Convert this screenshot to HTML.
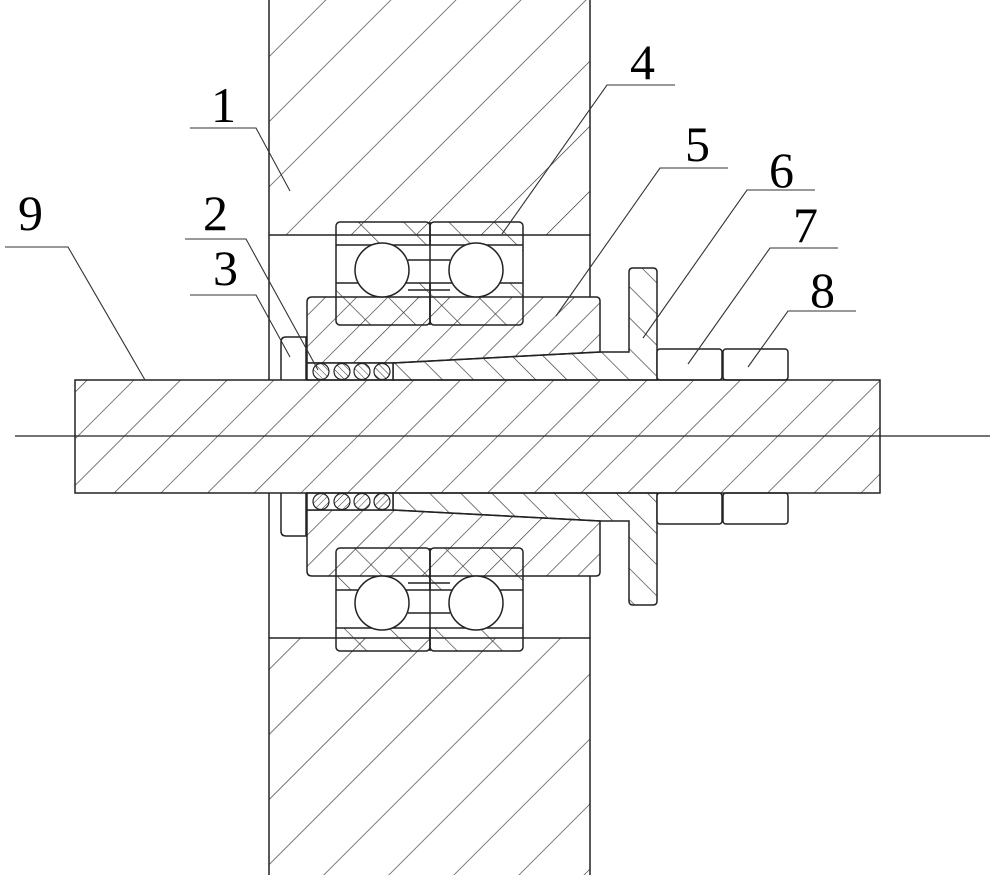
<!DOCTYPE html>
<html><head><meta charset="utf-8"><style>html,body{margin:0;padding:0;background:#fff}svg{display:block}</style></head>
<body>
<svg width="1000" height="875" viewBox="0 0 1000 875" xmlns="http://www.w3.org/2000/svg">
<defs>
<pattern id="hA" patternUnits="userSpaceOnUse" width="46" height="46" patternTransform="rotate(45)"><line x1="0" y1="0" x2="0" y2="46" stroke="#333" stroke-width="1.3"/></pattern>
<pattern id="hA2" patternUnits="userSpaceOnUse" width="46" height="46" patternTransform="rotate(-45)"><line x1="0" y1="0" x2="0" y2="46" stroke="#333" stroke-width="1.3"/></pattern>
<pattern id="hS" patternUnits="userSpaceOnUse" width="33" height="33" patternTransform="rotate(45)"><line x1="0" y1="0" x2="0" y2="33" stroke="#333" stroke-width="1.3"/></pattern>
<pattern id="hC" patternUnits="userSpaceOnUse" width="22" height="22" patternTransform="rotate(45)"><line x1="0" y1="0" x2="0" y2="22" stroke="#333" stroke-width="1.3"/></pattern>
<pattern id="hC2" patternUnits="userSpaceOnUse" width="22" height="22" patternTransform="rotate(-45)"><line x1="0" y1="0" x2="0" y2="22" stroke="#333" stroke-width="1.3"/></pattern>
<pattern id="hB" patternUnits="userSpaceOnUse" width="22" height="22" patternTransform="rotate(-45)"><line x1="0" y1="0" x2="0" y2="22" stroke="#333" stroke-width="1.3"/></pattern>
<pattern id="hB2" patternUnits="userSpaceOnUse" width="22" height="22" patternTransform="rotate(45)"><line x1="0" y1="0" x2="0" y2="22" stroke="#333" stroke-width="1.3"/></pattern>
<pattern id="hR" patternUnits="userSpaceOnUse" width="32" height="32" patternTransform="rotate(-45)"><line x1="0" y1="0" x2="0" y2="32" stroke="#333" stroke-width="1.3"/></pattern>
<pattern id="hR2" patternUnits="userSpaceOnUse" width="32" height="32" patternTransform="rotate(45)"><line x1="0" y1="0" x2="0" y2="32" stroke="#333" stroke-width="1.3"/></pattern>
<pattern id="hT" patternUnits="userSpaceOnUse" width="5" height="5" patternTransform="rotate(-45)"><line x1="0" y1="0" x2="0" y2="5" stroke="#333" stroke-width="1"/></pattern>
</defs>

<g fill="none" stroke="#222" stroke-width="1.5">
  <rect x="269" y="-5" width="321" height="240" fill="url(#hA)"/>
  <line x1="269" y1="235" x2="269" y2="380"/>
  <line x1="590" y1="235" x2="590" y2="297"/>
  <path d="M307,363 L307,302 Q307,297 312,297 L596,297 Q600,297 600,301 L600,352 L393,363 Z" fill="url(#hC)"/>
  <path d="M393,363 L600,352 L629,352 L629,272 Q629,268 633,268 L653,268 Q657,268 657,272 L657,380 L393,380 Z" fill="url(#hB)"/>
  <rect x="307" y="363" width="86" height="17" fill="#fff"/>
  <g fill="url(#hT)" stroke-width="1.2">
    <circle cx="321" cy="371.5" r="8"/><circle cx="342" cy="371.5" r="8"/><circle cx="362" cy="371.5" r="8"/><circle cx="382" cy="371.5" r="8"/>
  </g>
  <path d="M281,380 L281,342 Q281,337 286,337 L306,337 L306,380" fill="#fff"/>
  <rect x="336" y="222" width="94" height="103" rx="4" fill="url(#hR)"/>
  <rect x="430" y="222" width="93" height="103" rx="4" fill="url(#hR)"/>
  <rect x="337" y="245" width="185" height="38" fill="#fff" stroke="none"/>
  <line x1="336" y1="245" x2="523" y2="245"/><line x1="336" y1="283" x2="523" y2="283"/>
  <line x1="430" y1="222" x2="430" y2="325"/>
  <line x1="408" y1="260" x2="450" y2="260"/><line x1="408" y1="290" x2="450" y2="290"/>
  <circle cx="382" cy="270" r="27" fill="#fff"/>
  <circle cx="476" cy="270" r="27" fill="#fff"/>
  <rect x="657" y="349" width="65" height="31" rx="3" fill="#fff"/>
  <rect x="723" y="349" width="65" height="31" rx="3" fill="#fff"/>
</g>

<g fill="none" stroke="#222" stroke-width="1.5" transform="translate(0,873) scale(1,-1)">
  <rect x="269" y="-5" width="321" height="240" fill="url(#hA2)"/>
  <line x1="269" y1="235" x2="269" y2="380"/>
  <line x1="590" y1="235" x2="590" y2="297"/>
  <path d="M307,363 L307,302 Q307,297 312,297 L596,297 Q600,297 600,301 L600,352 L393,363 Z" fill="url(#hC2)"/>
  <path d="M393,363 L600,352 L629,352 L629,272 Q629,268 633,268 L653,268 Q657,268 657,272 L657,380 L393,380 Z" fill="url(#hB2)"/>
  <rect x="307" y="363" width="86" height="17" fill="#fff"/>
  <g fill="url(#hT)" stroke-width="1.2">
    <circle cx="321" cy="371.5" r="8"/><circle cx="342" cy="371.5" r="8"/><circle cx="362" cy="371.5" r="8"/><circle cx="382" cy="371.5" r="8"/>
  </g>
  <path d="M281,380 L281,342 Q281,337 286,337 L306,337 L306,380" fill="#fff"/>
  <rect x="336" y="222" width="94" height="103" rx="4" fill="url(#hR2)"/>
  <rect x="430" y="222" width="93" height="103" rx="4" fill="url(#hR2)"/>
  <rect x="337" y="245" width="185" height="38" fill="#fff" stroke="none"/>
  <line x1="336" y1="245" x2="523" y2="245"/><line x1="336" y1="283" x2="523" y2="283"/>
  <line x1="430" y1="222" x2="430" y2="325"/>
  <line x1="408" y1="260" x2="450" y2="260"/><line x1="408" y1="290" x2="450" y2="290"/>
  <circle cx="382" cy="270" r="27" fill="#fff"/>
  <circle cx="476" cy="270" r="27" fill="#fff"/>
  <rect x="657" y="349" width="65" height="31" rx="3" fill="#fff"/>
  <rect x="723" y="349" width="65" height="31" rx="3" fill="#fff"/>
</g>

<rect x="75" y="380" width="805" height="113" fill="url(#hS)" stroke="#222" stroke-width="1.5"/>
<line x1="15" y1="436" x2="990" y2="436" stroke="#222" stroke-width="1.2"/>
<g stroke="#333" stroke-width="1.1" fill="none">
  <polyline points="190,128 256,128 290,191"/>
  <polyline points="5,247 68,247 145,380"/>
  <polyline points="185,239 246,239 318,370"/>
  <polyline points="190,295 256,295 290,357"/>
  <polyline points="675,85 607,85 502,234"/>
  <polyline points="728,168 660,168 556,316"/>
  <polyline points="815,190 747,190 643,338"/>
  <polyline points="838,248 770,248 688,364"/>
  <polyline points="856,311 788,311 748,367"/>
</g>
<g font-family="Liberation Serif, serif" font-size="50" fill="#000">
  <text x="211" y="122">1</text>
  <text x="18" y="230">9</text>
  <text x="203" y="230">2</text>
  <text x="213" y="285">3</text>
  <text x="630" y="79">4</text>
  <text x="685" y="161">5</text>
  <text x="769" y="187">6</text>
  <text x="793" y="242">7</text>
  <text x="810" y="307">8</text>
</g>
</svg>
</body></html>
